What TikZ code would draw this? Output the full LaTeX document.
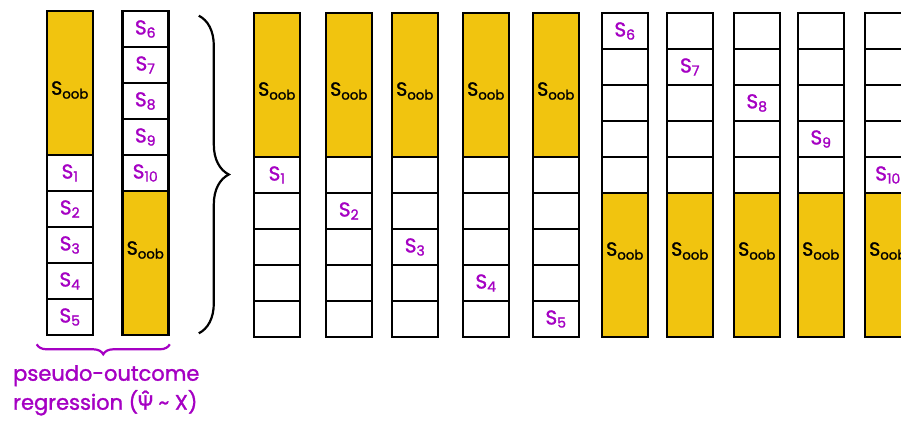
\documentclass[tikz,border=0pt]{standalone}
\usepackage{fontspec}
\setmainfont{Poppins}[FakeBold=1.4]
\newfontfamily\greekfont{Fira Sans}[FakeBold=1.4]
\usetikzlibrary{decorations.pathreplacing,calc}
\definecolor{oobyellow}{RGB}{241,196,15}
\definecolor{foldpurple}{RGB}{165,0,195}
\newcommand{\Sfold}[1]{S\textsubscript{#1}}

\begin{document}
\begin{tikzpicture}[
    x=1pt, y=-1pt,
    cell/.style={rectangle, draw=black, line width=2.6pt, fill=white,
                 minimum width=46pt, minimum height=36pt, inner sep=0pt,
                 font=\fontsize{20}{22}\selectfont, text=foldpurple},
    oob/.style={cell, fill=oobyellow, minimum height=144pt},
    oobtxt/.style={font=\fontsize{19}{22}\selectfont, text=black, inner sep=0pt},
    brace/.style={decorate, decoration={brace, amplitude=#1}, line width=2.2pt},
    note/.style={font=\fontsize{21}{29}\selectfont, text=foldpurple,
                 align=left, inner sep=0pt},
]
    \clip (0,0) rectangle (901,427);

    % Left: the two halves of the sample
    \node[oob] (l1-oob) at (70,83) {};
    \node[oobtxt] at ([yshift=-7pt]l1-oob.center) {\Sfold{oob}};
    \foreach \r in {1,...,5}
        \node[cell] (l1-\r) at (70,155+36*\r-18) {\Sfold{\r}};
    \foreach \r [evaluate=\r as \k using int(\r+5)] in {1,...,5}
        \node[cell] (l2-\r) at (145.5,11+36*\r-18) {\Sfold{\k}};
    \node[oob] (l2-oob) at (145.5,263) {};
    \node[oobtxt] at ([yshift=13pt]l2-oob.center) {\Sfold{oob}};

    % Right: one column per fold, first half
    \foreach \xl [count=\i] in {254,326,392,463,533} {
        \node[oob] (r\i-oob) at (\xl+23,85) {};
        \node[oobtxt] at ([yshift=-6pt]r\i-oob.center) {\Sfold{oob}};
        \foreach \r in {1,...,5}
            \node[cell] (r\i-\r) at (\xl+23,157+36*\r-18)
                {\ifnum\r=\i\relax\Sfold{\i}\fi};
    }

    % Right: second half
    \foreach \xl [count=\j from 6] in {602,667,734,798,865} {
        \foreach \r in {1,...,5}
            \node[cell] (r\j-\r) at (\xl+23,13+36*\r-18)
                {\ifnum\r=\numexpr\j-5\relax\Sfold{\j}\fi};
        \node[oob] (r\j-oob) at (\xl+23,265) {};
        \node[oobtxt] at ([yshift=14pt]r\j-oob.center) {\Sfold{oob}};
    }

    % Braces
    \draw[brace=30pt] ([xshift=29pt,yshift=-6pt]l2-1.north east)
        -- ([xshift=29pt,yshift=3pt]l2-oob.south east);
    \draw[brace=10pt, draw=foldpurple] ([yshift=-8pt]l2-oob.south east)
        -- ([xshift=-9pt,yshift=-8pt]l1-5.south west);

    \node[note, anchor=north west] (caption) at (13,365)
        {pseudo-outcome\\regression ({\greekfont Ψ̂} \textasciitilde\ X)};
\end{tikzpicture}
\end{document}
